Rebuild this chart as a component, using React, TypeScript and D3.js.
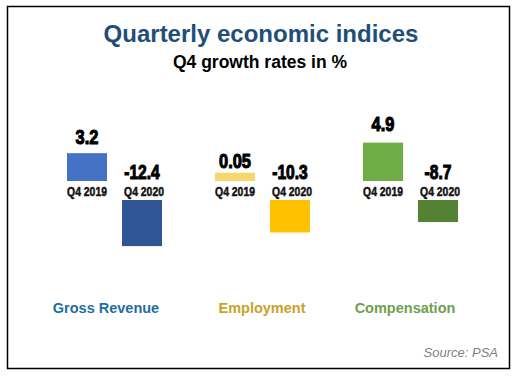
import React from "react";
import * as d3 from "d3";

const categories = ["Gross Revenue", "Employment", "Compensation"];
const periods = ["Q4 2019", "Q4 2020"];
const valuesQ42019 = [3.2, 0.05, 4.9];
const valuesQ42020 = [-12.4, -10.3, -8.7];
const valueLabels2019 = ["3.2", "0.05", "4.9"];
const valueLabels2020 = ["-12.4", "-10.3", "-8.7"];
const colors2019 = ["#4472C4", "#F7D86E", "#70AD47"];
const colors2020 = ["#2F5597", "#FFC000", "#548235"];
const labelColors = ["#1F6E9E", "#C9A227", "#6FA04E"];

const title = "Quarterly economic indices";
const subtitle = "Q4 growth rates in %";
const source = "Source: PSA";

export default function App() {
  const W = 532;
  const H = 380;
  const posBase = 181;
  const negTop = 200;
  const periodLabelY = 196;
  const labelShift = [-8, 0, -5];

  const xGroup = d3.scalePoint<string>().domain(categories).range([114, 410]);
  const xInner = d3
    .scaleBand<string>()
    .domain(periods)
    .range([-47, 48])
    .paddingInner(15 / 55);
  const bw = xInner.bandwidth();

  const posH = d3.scaleLinear().domain([0, 5]).range([8, 39]);
  const negH = d3.scaleLinear().domain([-8, -13]).range([17.5, 50]);
  const posLabelY = d3.scaleLinear().domain([0, 5]).range([168.6, 130.6]);

  const sans = "'Liberation Sans', Arial, sans-serif";

  const Condensed = ({
    x,
    y,
    text,
    size,
    sx,
    sw,
    fill,
  }: {
    x: number;
    y: number;
    text: string;
    size: number;
    sx: number;
    sw: number;
    fill: string;
  }) => (
    <text
      transform={`translate(${x},${y}) scale(${sx},1)`}
      textAnchor="middle"
      fontFamily={sans}
      fontWeight="bold"
      fontSize={size}
      fill={fill}
      stroke={fill}
      strokeWidth={sw}
    >
      {text}
    </text>
  );

  return (
    <svg
      width={W}
      height={H}
      style={{ position: "absolute", left: 0, top: 0, background: "#fff" }}
    >
      <rect x={0} y={0} width={W} height={H} fill="#fff" />
      <rect x={7.5} y={6.5} width={502} height={362} fill="none" stroke="#000" strokeWidth={1.5} />
      <text
        x={261}
        y={42}
        textAnchor="middle"
        fontFamily={sans}
        fontWeight="bold"
        fontSize={24}
        fill="#1F4E79"
      >
        {title}
      </text>
      <text
        x={260}
        y={68}
        textAnchor="middle"
        fontFamily={sans}
        fontWeight="bold"
        fontSize={17.5}
        fill="#000"
      >
        {subtitle}
      </text>

      {categories.map((c, i) => {
        const cx = xGroup(c) as number;
        const x1 = cx + (xInner(periods[0]) as number);
        const x2 = cx + (xInner(periods[1]) as number);
        const h1 = posH(valuesQ42019[i]);
        const h2 = negH(valuesQ42020[i]);
        return (
          <g key={c}>
            <rect x={x1} y={posBase - h1} width={bw} height={h1} fill={colors2019[i]} />
            <rect x={x2} y={negTop} width={bw} height={h2} fill={colors2020[i]} />
            <Condensed
              x={x1 + bw / 2}
              y={posLabelY(valuesQ42019[i])}
              text={valueLabels2019[i]}
              size={20.5}
              sx={0.8}
              sw={1.1}
              fill="#000"
            />
            <Condensed
              x={x2 + bw / 2}
              y={179}
              text={valueLabels2020[i]}
              size={20.5}
              sx={0.76}
              sw={1.1}
              fill="#000"
            />
            <Condensed
              x={x1 + bw / 2}
              y={periodLabelY}
              text={periods[0]}
              size={13}
              sx={0.8}
              sw={0.5}
              fill="#111"
            />
            <Condensed
              x={x2 + bw / 2 + 2}
              y={periodLabelY}
              text={periods[1]}
              size={13}
              sx={0.8}
              sw={0.5}
              fill="#111"
            />
            <text
              x={cx + labelShift[i]}
              y={313}
              textAnchor="middle"
              fontFamily={sans}
              fontWeight="bold"
              fontSize={14.5}
              fill={labelColors[i]}
            >
              {c}
            </text>
          </g>
        );
      })}

      <text
        x={498}
        y={357}
        textAnchor="end"
        fontFamily={sans}
        fontStyle="italic"
        fontSize={13}
        fill="#808080"
      >
        {source}
      </text>
    </svg>
  );
}
